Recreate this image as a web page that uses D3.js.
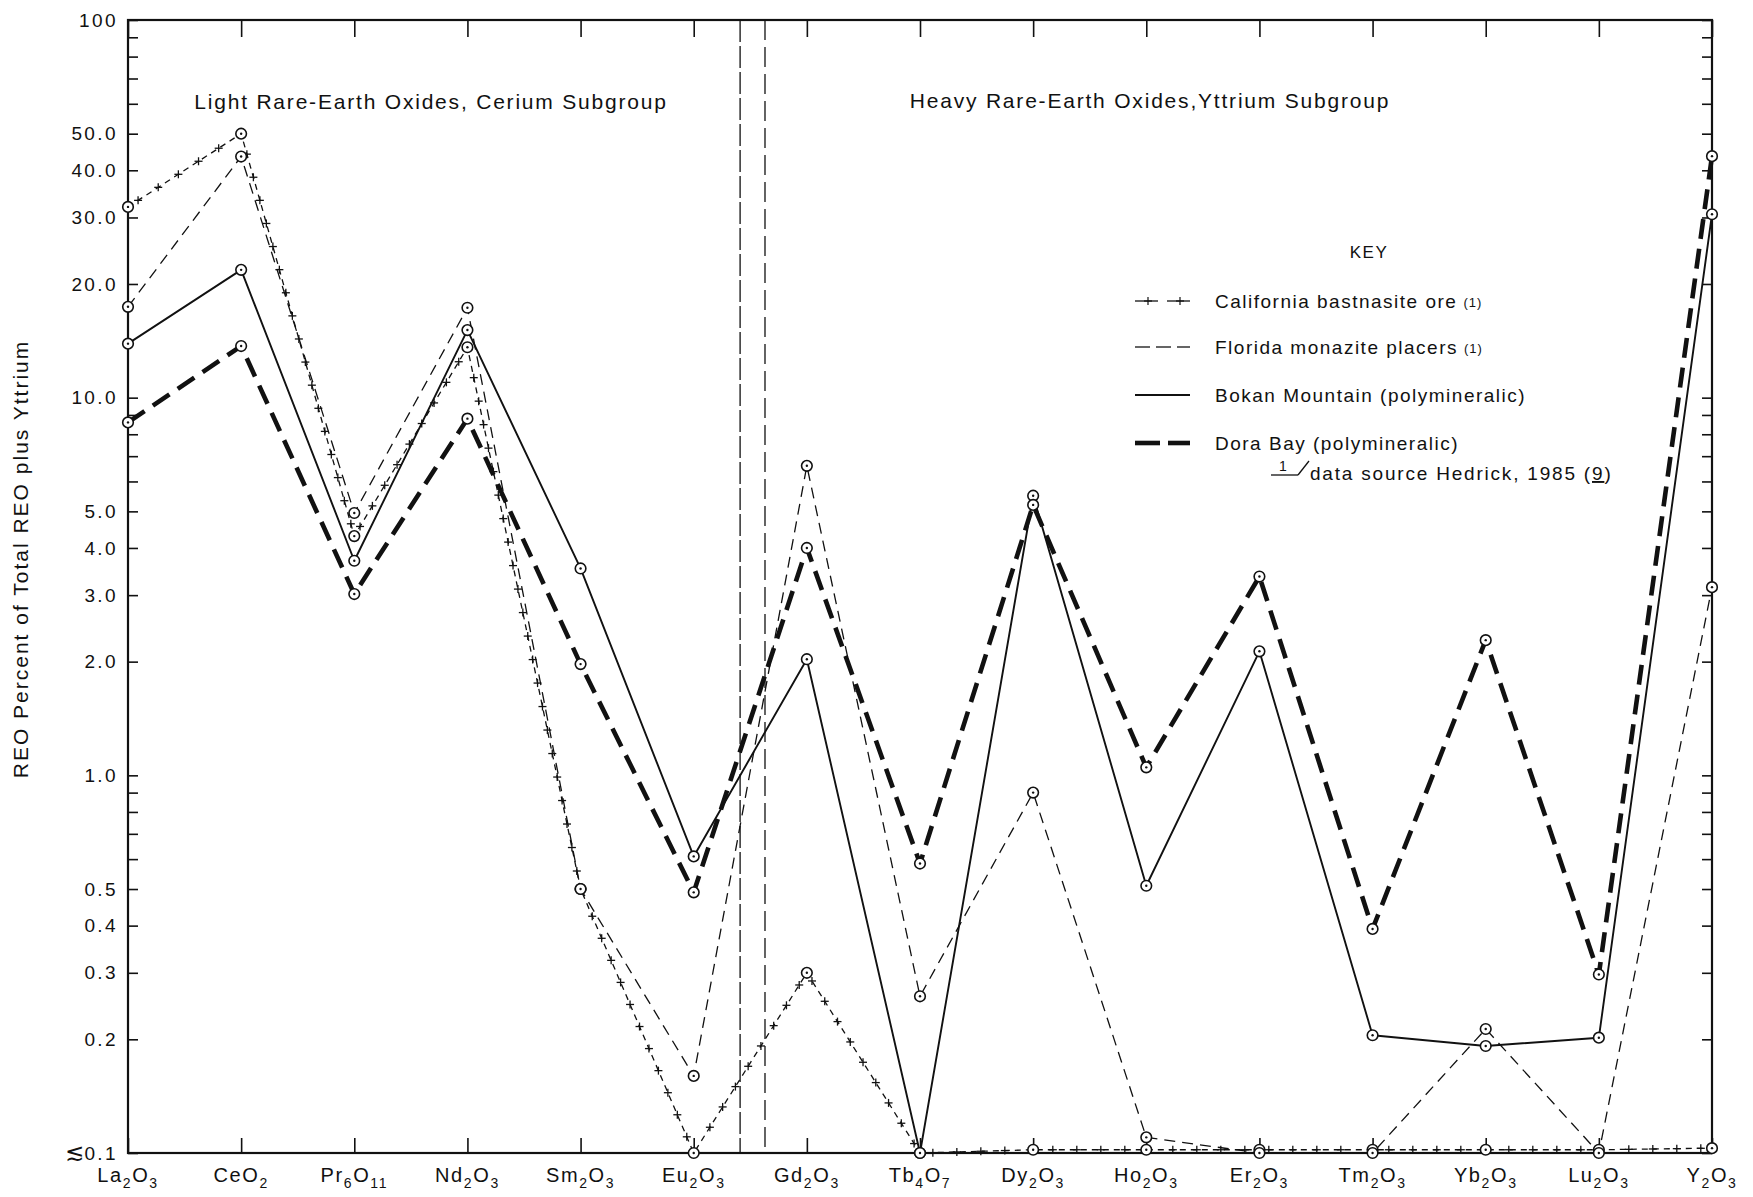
<!DOCTYPE html>
<html><head><meta charset="utf-8">
<script src="https://cdn.jsdelivr.net/npm/d3@7"></script>
<style>
body{margin:0;background:#fff}
svg{display:block}
text{font-family:"Liberation Sans",Arial,Helvetica,sans-serif;fill:#111}
</style>
</head><body>
<svg id="c" width="1753" height="1197"></svg>
<script>
// ---------- data ----------
const categories = ["La2O3","CeO2","Pr6O11","Nd2O3","Sm2O3","Eu2O3","Gd2O3","Tb4O7","Dy2O3","Ho2O3","Er2O3","Tm2O3","Yb2O3","Lu2O3","Y2O3"];
const california = [32, 50, 4.3, 13.6, 0.5, 0.1, 0.3, 0.1, 0.102, 0.102, 0.102, 0.102, 0.102, 0.102, 0.103];
const florida    = [17.4, 43.5, 4.95, 17.3, 0.5, 0.16, 6.6, 0.26, 0.9, 0.11, 0.1, 0.1, 0.213, 0.1, 3.15];
const bokan      = [13.9, 21.8, 3.7, 15.1, 3.53, 0.61, 2.03, 0.1, 5.5, 0.51, 2.13, 0.205, 0.192, 0.202, 30.6];
const dora       = [8.6, 13.7, 3.02, 8.8, 1.97, 0.49, 4.0, 0.584, 5.2, 1.05, 3.36, 0.392, 2.28, 0.297, 43.6];
const seriesNames = ["California bastnasite ore","Florida monazite placers","Bokan Mountain (polymineralic)","Dora Bay (polymineralic)"];
const yTickValues = [0.1,0.2,0.3,0.4,0.5,1,2,3,4,5,10,20,30,40,50,100];
const yTickLabels = ["0.1","0.2","0.3","0.4","0.5","1.0","2.0","3.0","4.0","5.0","10.0","20.0","30.0","40.0","50.0","100"];
const yMinorTicks = [0.6,0.7,0.8,0.9,6,7,8,9,60,70,80,90];
const yAxisTitle = "REO Percent of Total REO plus Yttrium";
const groupLabels = ["Light Rare-Earth Oxides, Cerium Subgroup","Heavy Rare-Earth Oxides,Yttrium Subgroup"];

// ---------- layout ----------
const L = 128, R = 1712, T = 20, B = 1153;
const svg = d3.select("#c");
const x = d3.scalePoint().domain(categories).range([L, R]);
const y = d3.scaleLog().domain([0.1, 100]).range([B, T]);
const INK = "#111";

function styleAxis(sel){
  sel.attr("font-family", null).attr("font-size", null);
  sel.selectAll(".domain").remove();
  sel.selectAll(".tick line").attr("stroke", INK).attr("stroke-width", 1.6);
}

// left axis (major + labels)
const la = svg.append("g").attr("transform", `translate(${L},0)`)
  .call(d3.axisLeft(y).tickValues(yTickValues)
    .tickFormat(d => yTickLabels[yTickValues.indexOf(d)])
    .tickSizeInner(-10).tickSizeOuter(0).tickPadding(10));
styleAxis(la);
la.selectAll(".tick text").attr("font-size", 19).attr("letter-spacing", 2.4).attr("fill", INK);
// "≲" prefix for the lowest label
la.selectAll(".tick text").filter(d => d === 0.1).each(function(){
  const t = d3.select(this); const s = t.text(); t.text(null);
  t.append("tspan").attr("font-family", "DejaVu Sans").attr("font-size", 23).attr("letter-spacing", 0).text("\u2272");
  t.append("tspan").text(s);
});
// left minor
const lm = svg.append("g").attr("transform", `translate(${L},0)`)
  .call(d3.axisLeft(y).tickValues(yMinorTicks).tickFormat("").tickSizeInner(-10).tickSizeOuter(0));
styleAxis(lm);
// right axis
const ra = svg.append("g").attr("transform", `translate(${R},0)`)
  .call(d3.axisRight(y).tickValues(yTickValues.concat(yMinorTicks)).tickFormat("").tickSizeInner(-10).tickSizeOuter(0));
styleAxis(ra);
// bottom axis
const ba = svg.append("g").attr("transform", `translate(0,${B})`)
  .call(d3.axisBottom(x).tickFormat("").tickSizeInner(-15).tickSizeOuter(0));
styleAxis(ba);
// top axis
const ta = svg.append("g").attr("transform", `translate(0,${T})`)
  .call(d3.axisTop(x).tickFormat("").tickSizeInner(-17).tickSizeOuter(0));
styleAxis(ta);

// frame
svg.append("rect").attr("x", L).attr("y", T).attr("width", R - L).attr("height", B - T)
  .attr("fill", "none").attr("stroke", INK).attr("stroke-width", 2.2);

// category labels with subscripts
const catLab = svg.append("g");
categories.forEach(c => {
  const t = catLab.append("text").attr("x", x(c)).attr("y", 1182)
    .attr("text-anchor", "middle").attr("font-size", 20).attr("letter-spacing", 1.6);
  const parts = c.match(/\d+|\D+/g);
  let sub = false;
  parts.forEach(p => {
    const isNum = /\d/.test(p);
    const ts = t.append("tspan").text(p);
    if (isNum) { ts.attr("font-size", 14).attr("dy", sub ? 0 : 6); sub = true; }
    else { ts.attr("dy", sub ? -6 : 0); sub = false; }
  });
});

// y axis title
svg.append("text").attr("transform", "translate(20,559) rotate(-90)")
  .attr("text-anchor", "middle").attr("dominant-baseline", "central")
  .attr("font-size", 21).attr("letter-spacing", 2).text(yAxisTitle);

// group labels
svg.append("text").attr("x", 431).attr("y", 109).attr("text-anchor", "middle")
  .attr("font-size", 21).attr("letter-spacing", 1.8).text(groupLabels[0]);
svg.append("text").attr("x", 1150).attr("y", 108).attr("text-anchor", "middle")
  .attr("font-size", 21).attr("letter-spacing", 1.8).text(groupLabels[1]);

// subgroup divider lines (between Eu2O3 and Gd2O3)
const xEu = x("Eu2O3"), xGd = x("Gd2O3");
svg.append("line").attr("x1", xEu + (xGd - xEu) * 0.41).attr("x2", xEu + (xGd - xEu) * 0.41)
  .attr("y1", T).attr("y2", B).attr("stroke", INK).attr("stroke-width", 1.3).attr("stroke-dasharray", "22,4");
svg.append("line").attr("x1", xEu + (xGd - xEu) * 0.63).attr("x2", xEu + (xGd - xEu) * 0.63)
  .attr("y1", T).attr("y2", B).attr("stroke", INK).attr("stroke-width", 1.3).attr("stroke-dasharray", "20,7");

// ---------- series ----------
const line = d3.line().x((d, i) => x(categories[i])).y(d => y(d));
const styles = [
  {data: california, w: 1.3, dash: "6,5"},
  {data: florida, w: 1.3, dash: "11,7"},
  {data: bokan, w: 1.9, dash: null},
  {data: dora, w: 4.6, dash: "20,10"}
];
const lines = svg.append("g");
const paths = styles.map(s => lines.append("path").datum(s.data).attr("d", line)
  .attr("fill", "none").attr("stroke", INK).attr("stroke-width", s.w)
  .attr("stroke-dasharray", s.dash).attr("stroke-linejoin", "round"));

// California "+" marks along its path
function drawPlus(g, px, py, a) {
  g.append("line").attr("x1", px - a).attr("x2", px + a).attr("y1", py).attr("y2", py);
  g.append("line").attr("x1", px).attr("x2", px).attr("y1", py - a).attr("y2", py + a);
}
const pg = svg.append("g").attr("stroke", INK).attr("stroke-width", 1.3);
const cp = paths[0].node();
const tot = cp.getTotalLength();
const pts = california.map((d, i) => [x(categories[i]), y(d)]);
for (let s = 12; s < tot; s += 24) {
  const p = cp.getPointAtLength(s);
  if (pts.some(q => Math.hypot(q[0] - p.x, q[1] - p.y) < 9)) continue;
  drawPlus(pg, p.x, p.y, 4);
}

// point markers
const mk = svg.append("g");
[california, florida, bokan, dora].forEach(arr => {
  arr.forEach((d, i) => {
    const cx = x(categories[i]), cy = y(d);
    mk.append("circle").attr("cx", cx).attr("cy", cy).attr("r", 5.3)
      .attr("fill", "#fff").attr("stroke", INK).attr("stroke-width", 1.6);
    mk.append("circle").attr("cx", cx).attr("cy", cy).attr("r", 1.2).attr("fill", INK);
  });
});

// ---------- legend ----------
const lg = svg.append("g");
lg.append("text").attr("x", 1369).attr("y", 258).attr("text-anchor", "middle")
  .attr("font-size", 17).attr("letter-spacing", 1.5).text("KEY");
const rowsY = [301, 347, 395, 443];
const tx = 1215;
// California sample
[[1135, 1158], [1167, 1190]].forEach(([a, b]) => {
  lg.append("line").attr("x1", a).attr("x2", b).attr("y1", rowsY[0]).attr("y2", rowsY[0]).attr("stroke", INK).attr("stroke-width", 1.3);
});
const lpg = lg.append("g").attr("stroke", INK).attr("stroke-width", 1.2);
drawPlus(lpg, 1148, rowsY[0], 4);
drawPlus(lpg, 1180, rowsY[0], 4);
// Florida sample
[[1135, 1150], [1156, 1171], [1177, 1190]].forEach(([a, b]) => {
  lg.append("line").attr("x1", a).attr("x2", b).attr("y1", rowsY[1]).attr("y2", rowsY[1]).attr("stroke", INK).attr("stroke-width", 1.3);
});
// Bokan sample
lg.append("line").attr("x1", 1135).attr("x2", 1190).attr("y1", rowsY[2]).attr("y2", rowsY[2]).attr("stroke", INK).attr("stroke-width", 1.9);
// Dora sample
[[1135, 1160], [1168, 1190]].forEach(([a, b]) => {
  lg.append("line").attr("x1", a).attr("x2", b).attr("y1", rowsY[3]).attr("y2", rowsY[3]).attr("stroke", INK).attr("stroke-width", 4.6);
});
seriesNames.forEach((n, i) => {
  const t = lg.append("text").attr("x", tx).attr("y", rowsY[i] + 7).attr("font-size", 19).attr("letter-spacing", 1.5).text(n);
  if (i < 2) t.append("tspan").attr("font-size", 13).attr("dx", 6).attr("dy", -1).attr("letter-spacing", 1).text("(1)");
});
// footnote
lg.append("text").attr("x", 1279).attr("y", 471).attr("font-size", 14).text("1");
lg.append("line").attr("x1", 1271).attr("x2", 1298).attr("y1", 475).attr("y2", 475).attr("stroke", INK).attr("stroke-width", 1.3);
lg.append("line").attr("x1", 1298).attr("x2", 1309).attr("y1", 475).attr("y2", 461).attr("stroke", INK).attr("stroke-width", 1.3);
const fn = lg.append("text").attr("x", 1310).attr("y", 480).attr("font-size", 19).attr("letter-spacing", 1.8);
fn.append("tspan").text("data source Hedrick, 1985 (");
fn.append("tspan").attr("text-decoration", "underline").text("9");
fn.append("tspan").text(")");
</script>
</body></html>
